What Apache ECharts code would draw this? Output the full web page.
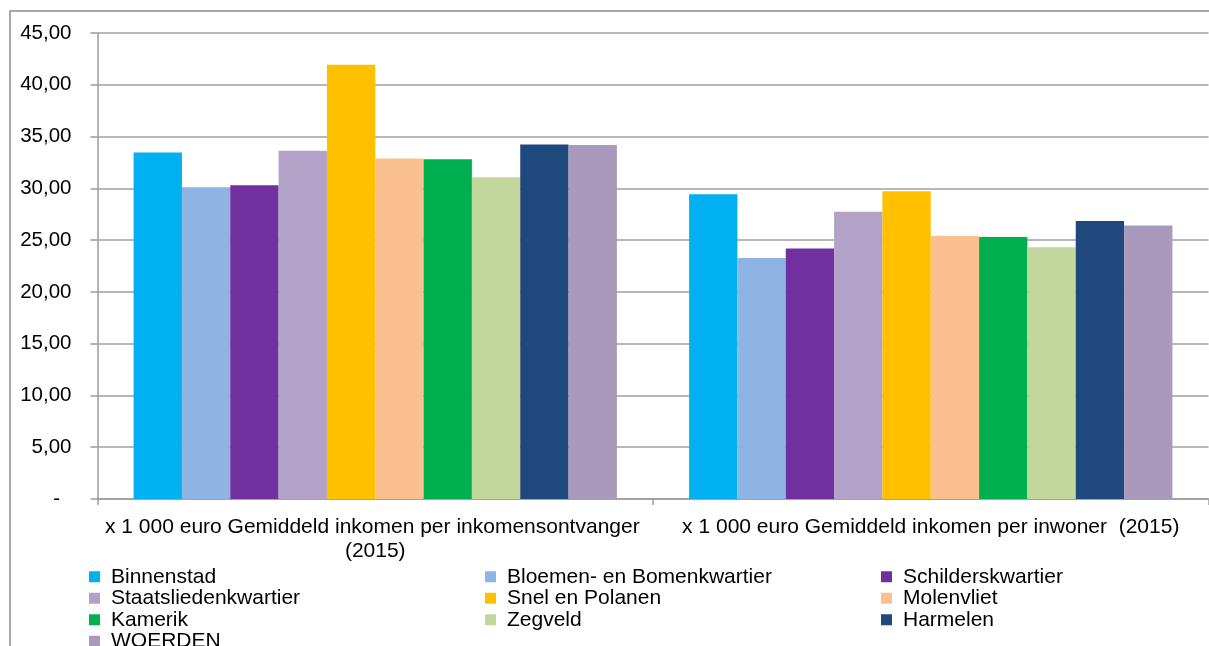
<!DOCTYPE html>
<html>
<head>
<meta charset="utf-8">
<script src="https://cdn.jsdelivr.net/npm/echarts@6/dist/echarts.min.js"></script>
<style>
  html, body { margin: 0; padding: 0; background: #fff; }
  #chart { width: 1209px; height: 646px; }
</style>
</head>
<body>
<div id="chart"></div>
<script>
// Income per district, Woerden (x 1 000 euro)

const categories = [
  'x 1 000 euro Gemiddeld inkomen per inkomensontvanger (2015)',
  'x 1 000 euro Gemiddeld inkomen per inwoner  (2015)'
];

const districts = [
  'Binnenstad', 'Bloemen- en Bomenkwartier', 'Schilderskwartier',
  'Staatsliedenkwartier', 'Snel en Polanen', 'Molenvliet',
  'Kamerik', 'Zegveld', 'Harmelen', 'WOERDEN'
];

const perIncomeEarner = [33.45, 30.10, 30.29, 33.63, 41.93, 32.89, 32.80, 31.06, 34.24, 34.18];
const perResident = [29.42, 23.28, 24.19, 27.73, 29.71, 25.42, 25.29, 24.32, 26.85, 26.40];

const colors = [
  '#00B0F0', '#8EB4E3', '#7030A0', '#B2A2C7', '#FFC000',
  '#FAC090', '#00B050', '#C3D69B', '#1F497D', '#A99ABD'
];

const font = "'Liberation Sans', Arial, sans-serif";

const chart = echarts.init(document.getElementById('chart'));

// legend columns, same order as the Excel legend (row-wise, 3 across)
function legendColumn(names, left) {
  return {
    orient: 'vertical',
    left: left,
    top: 566,
    height: 150,
    padding: 0,
    itemWidth: 11,
    itemHeight: 11,
    itemGap: 0,
    icon: 'rect',
    selectedMode: false,
    data: names,
    textStyle: {
      fontFamily: font,
      fontSize: 21,
      color: '#000',
      lineHeight: 21.5,
      padding: [0, 0, 0, 6]
    }
  };
}

chart.setOption({
  animation: false,
  color: colors,
  textStyle: { fontFamily: font },
  graphic: [{
    type: 'rect',
    shape: { x: 10, y: 11, width: 1400, height: 900 },
    style: { fill: 'none', stroke: '#8c8c8c', lineWidth: 1.5 },
    silent: true
  }],
  legend: [
    legendColumn([districts[0], districts[3], districts[6], districts[9]], 89),
    legendColumn([districts[1], districts[4], districts[7]], 485),
    legendColumn([districts[2], districts[5], districts[8]], 881)
  ],
  grid: {
    left: 97.5,
    right: 0.5,
    top: 33,
    height: 466
  },
  xAxis: {
    type: 'category',
    data: categories,
    axisLine: { lineStyle: { color: '#9c9c9c', width: 1.5 } },
    axisTick: { show: true, length: 6, interval: 0, lineStyle: { color: '#9c9c9c', width: 1.5 } },
    axisLabel: {
      interval: 0,
      margin: 16,
      fontSize: 21,
      lineHeight: 24,
      color: '#000',
      width: 548,
      overflow: 'break'
    }
  },
  yAxis: {
    type: 'value',
    min: 0,
    max: 45,
    interval: 5,
    axisLine: { show: true, lineStyle: { color: '#9c9c9c', width: 1.5 } },
    axisTick: { show: true, length: 7, lineStyle: { color: '#9c9c9c', width: 1.5 } },
    splitLine: { lineStyle: { color: '#a0a0a0', width: 1.5 } },
    axisLabel: {
      margin: 26,
      fontSize: 20.5,
      color: '#000',
      formatter: v => v === 0 ? '-  ' : v.toFixed(2).replace('.', ',')
    }
  },
  series: districts.map((name, i) => ({
    name: name,
    type: 'bar',
    barGap: '0%',
    barCategoryGap: '13%',
    data: [perIncomeEarner[i], perResident[i]]
  }))
});

window.addEventListener('resize', () => chart.resize());
</script>
</body>
</html>
